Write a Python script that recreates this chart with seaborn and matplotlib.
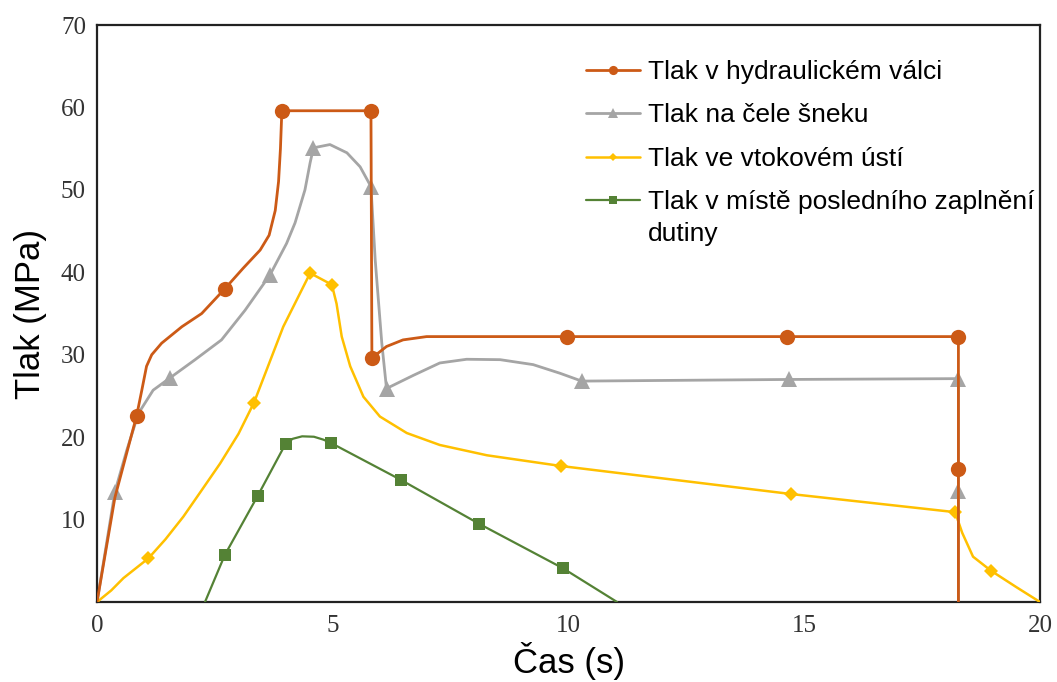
import matplotlib
matplotlib.use('Agg')
import matplotlib.pyplot as plt
import seaborn as sns

# values (time in s, pressure in MPa)
# extra unmarked points follow the smoothed curve shape of the original
orange_x = [0, 0.38, 0.84, 0.95, 1.05, 1.16, 1.37, 1.80, 2.22, 2.71, 3.10, 3.46,
            3.65, 3.78, 3.85, 3.89, 3.92, 5.81, 5.83, 6.14, 6.49, 6.99, 9.97,
            14.63, 18.27, 18.27, 18.27]
orange_y = [0, 12.7, 22.6, 25.7, 28.6, 30.0, 31.4, 33.4, 35.0, 38.0, 40.5, 42.7,
            44.5, 47.5, 51.0, 55.0, 59.6, 59.6, 29.6, 31.0, 31.8, 32.2, 32.2,
            32.2, 32.2, 16.1, 0]
orange_marks = [2, 9, 16, 17, 18, 22, 23, 24, 25]

gray_x = [0, 0.38, 0.63, 0.88, 1.19, 1.55, 2.08, 2.64, 3.14, 3.67, 4.02, 4.20,
          4.41, 4.52, 4.59, 4.94, 5.30, 5.58, 5.81, 5.90, 6.04, 6.14, 6.71, 7.27,
          7.84, 8.55, 9.25, 9.82, 10.28, 14.68, 18.27, 18.27, 18.27]
gray_y = [0, 13.4, 18.4, 22.9, 25.7, 27.2, 29.4, 31.8, 35.4, 39.7, 43.5, 46.0,
          50.0, 53.3, 55.1, 55.5, 54.5, 52.8, 50.4, 41.5, 31.4, 25.9, 27.5, 29.0,
          29.45, 29.4, 28.8, 27.75, 26.8, 27.0, 27.1, 13.5, 0]
gray_marks = [1, 5, 9, 14, 18, 21, 28, 29, 30, 31]

yellow_x = [0, 0.30, 0.56, 1.09, 1.45, 1.83, 2.20, 2.61, 3.00, 3.33, 3.95, 4.52,
            4.98, 5.08, 5.19, 5.37, 5.65, 6.00, 6.57, 7.27, 8.27, 9.84, 14.72,
            18.20, 18.35, 18.58, 18.96, 19.50, 20.0]
yellow_y = [0, 1.4, 2.9, 5.3, 7.6, 10.35, 13.4, 16.8, 20.4, 24.2, 33.4, 39.9,
            38.5, 36.2, 32.2, 28.6, 24.9, 22.5, 20.5, 19.05, 17.8, 16.5, 13.1,
            10.9, 8.4, 5.5, 3.8, 1.8, 0]
yellow_marks = [3, 9, 11, 12, 21, 22, 23, 26]

green_x = [2.29, 2.71, 3.41, 4.0, 4.15, 4.35, 4.6, 4.8, 4.96, 6.45, 8.10, 9.88, 11.03]
green_y = [0, 5.7, 12.9, 19.2, 19.8, 20.1, 20.05, 19.7, 19.3, 14.8, 9.5, 4.1, 0]
green_marks = [1, 2, 3, 8, 9, 10, 11]

labels = ['Tlak v hydraulickém válci', 'Tlak na čele šneku',
          'Tlak ve vtokovém ústí', 'Tlak v místě posledního zaplnění']
x_ticks = [0, 5, 10, 15, 20]
y_ticks = [10, 20, 30, 40, 50, 60, 70]

sns.set_theme(style='white')
plt.rcParams['font.family'] = ['Liberation Sans', 'DejaVu Sans']

fig, ax = plt.subplots(figsize=(10.57, 6.82), dpi=100)
fig.subplots_adjust(left=0.0918, right=0.9839, bottom=0.1173, top=0.9633)

series = [
    (orange_x, orange_y, orange_marks, '#CC5A16', 'o', 11, 2.0, 5),
    (gray_x, gray_y, gray_marks, '#A5A5A5', '^', 11, 2.0, 2),
    (yellow_x, yellow_y, yellow_marks, '#FFC000', 'D', 7.5, 1.8, 3),
    (green_x, green_y, green_marks, '#548235', 's', 9, 1.6, 4),
]
for (xs, ys, marks, col, mk, ms, lw, z), lab in zip(series, labels):
    sns.lineplot(x=xs, y=ys, sort=False, estimator=None, color=col, lw=lw,
                 marker=mk, markersize=ms, markevery=marks, markeredgecolor=col,
                 markeredgewidth=0, label=lab, zorder=z, ax=ax,
                 solid_joinstyle='round')

ax.set_xlim(0, 20)
ax.set_ylim(0, 70)
ax.set_xticks(x_ticks)
ax.set_yticks(y_ticks)
ax.tick_params(length=0)
ax.tick_params(axis='y', pad=8)
ax.tick_params(axis='x', pad=9)
for t in ax.get_xticklabels() + ax.get_yticklabels():
    t.set_fontfamily('Liberation Serif')
    t.set_fontsize(18)
    t.set_color('#333333')

for s in ax.spines.values():
    s.set_color('#222222')
    s.set_linewidth(1.6)

ax.set_xlabel('Čas (s)', fontsize=25, color='black', labelpad=4)
ax.set_ylabel('Tlak (MPa)', fontsize=25, color='black', labelpad=10)

leg = ax.legend(loc='upper left', bbox_to_anchor=(0.5074, 0.958), frameon=False,
                fontsize=19, handlelength=2.05, handletextpad=0.3,
                labelspacing=0.74, markerscale=0.6, borderaxespad=0,
                labelcolor='black')

fig.canvas.draw()
bb = leg.get_texts()[3].get_window_extent()
W, H = fig.get_size_inches() * fig.dpi
fig.text(bb.x0 / W, (bb.y0 - 32) / H, 'dutiny', fontsize=19, color='black',
         va='bottom', ha='left')

fig.savefig('out.png', dpi=100)
